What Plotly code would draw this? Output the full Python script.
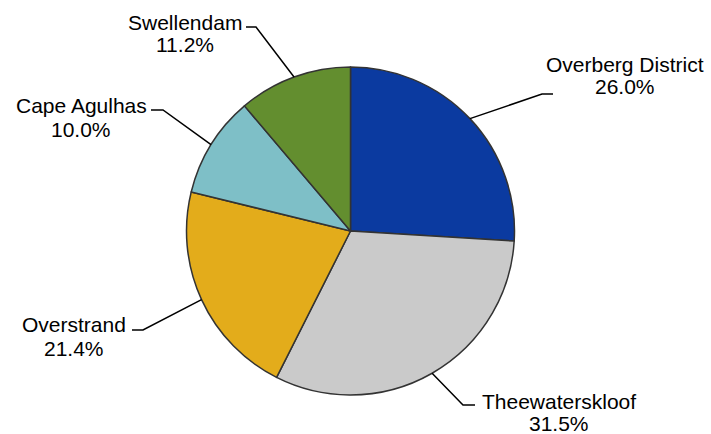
import math
import plotly.graph_objects as go

# ---- data ----
labels = ["Overberg District", "Theewaterskloof", "Overstrand", "Cape Agulhas", "Swellendam"]
values = [26.0, 31.5, 21.4, 10.0, 11.2]
colors = ["#0B3AA0", "#CACACA", "#E3AC1B", "#7EBFC7", "#638E2F"]

# ---- layout (pixels) ----
W, H = 711, 434
CX, CY, R = 350.5, 231, 164
# label centre x, name line y, percent line y
label_pos = [(625, 65, 87), (559, 401, 423), (74, 324, 348), (81, 105, 129), (185, 22, 45)]
# leader knee and end points
leader_pts = [((542, 94), (553, 94)), ((463, 405), (475, 405)), ((143, 330), (132, 330)),
              ((163, 110), (151, 110)), ((256, 27), (246, 27))]

def px(x):
    return x / W

def py(y):
    return 1 - y / H

fig = go.Figure(go.Pie(
    labels=labels, values=values, sort=False, direction="clockwise", rotation=0,
    marker=dict(colors=colors, line=dict(color="#333333", width=1.5)),
    textinfo="none", hoverinfo="label+percent", showlegend=False,
    domain=dict(x=[px(CX - R), px(CX + R)], y=[py(CY + R), py(CY - R)]),
))

total = sum(values)
cum = 0.0
shapes = []
annotations = []
font = dict(family="Liberation Sans, Arial, sans-serif", size=21, color="#000000")
for lab, v, (lx, ny, ppy), (knee, end) in zip(labels, values, label_pos, leader_pts):
    mid = (cum + v / 2) / total
    cum += v
    th = 2 * math.pi * mid
    ex = CX + R * math.sin(th)
    ey = CY - R * math.cos(th)
    path = f"M {px(ex)} {py(ey)} L {px(knee[0])} {py(knee[1])} L {px(end[0])} {py(end[1])}"
    shapes.append(dict(type="path", path=path, xref="paper", yref="paper",
                       line=dict(color="#000000", width=1.5)))
    annotations.append(dict(text=lab, x=px(lx), y=py(ny), xref="paper", yref="paper",
                            xanchor="center", yanchor="middle", showarrow=False, font=font))
    annotations.append(dict(text=f"{v / total * 100:.1f}%", x=px(lx), y=py(ppy), xref="paper", yref="paper",
                            xanchor="center", yanchor="middle", showarrow=False, font=font))

fig.update_layout(
    width=W, height=H, margin=dict(l=0, r=0, t=0, b=0),
    paper_bgcolor="#FFFFFF", plot_bgcolor="#FFFFFF",
    shapes=shapes, annotations=annotations,
)
fig.write_html("out.html", config={"displayModeBar": False},
               post_script="document.body.style.margin='0';document.body.style.overflow='hidden';")
